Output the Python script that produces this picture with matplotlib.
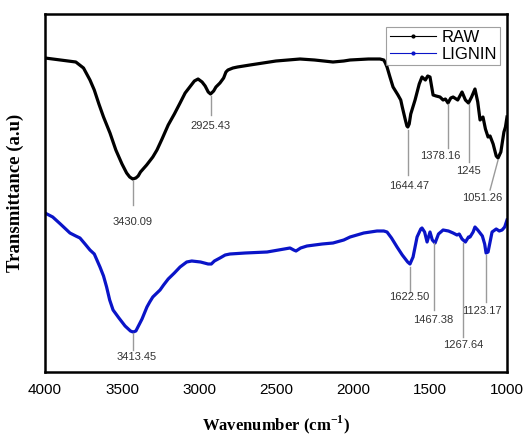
import matplotlib
matplotlib.use("Agg")
import matplotlib.pyplot as plt
from matplotlib.lines import Line2D

# RAW spectrum (wavenumber, transmittance a.u.)
raw_wn = [4000, 3900, 3800, 3750, 3708, 3680, 3650, 3620, 3578, 3540, 3500, 3470,
          3450, 3430, 3410, 3395, 3380, 3340, 3300, 3273, 3240, 3200, 3160,
          3123, 3090, 3050, 3030, 3006, 2980, 2960, 2940, 2925, 2905, 2890, 2864,
          2840, 2825, 2812, 2780, 2750, 2669, 2500, 2344,
          2250, 2130, 2060, 2019, 1900, 1825, 1800, 1790, 1779, 1760, 1740, 1720,
          1708, 1690, 1680, 1660, 1650, 1644, 1635, 1625, 1597, 1570, 1552, 1530,
          1515, 1500, 1480, 1460,
          1435, 1415, 1400, 1383, 1365, 1350, 1320, 1292, 1270, 1250, 1230, 1208,
          1190, 1175, 1156, 1140, 1123, 1110, 1090, 1070, 1058, 1040, 1020, 1010, 1000]
raw_t = [314, 312, 310, 304, 292, 282, 268, 255, 239, 222, 208, 199,
         195, 193, 194, 196, 200, 207, 215, 222, 233, 247, 258,
         269, 279, 287, 291, 293, 290, 286, 280, 278, 281, 285, 289,
         294, 300, 302, 304, 305, 307, 311, 313,
         312, 310, 311, 312, 313, 313, 312, 309, 305, 295, 285, 280,
         277, 272, 265, 252, 246, 245, 248, 258, 272, 288, 295, 292,
         296, 295, 277, 276,
         275, 272, 273, 269, 274, 275, 272, 280, 272, 269, 275, 283,
         270, 252, 255, 243, 235, 236, 228, 216, 214, 220, 240, 245, 255]

# LIGNIN spectrum
lig_wn = [4000, 3950, 3900, 3838, 3800, 3773, 3740, 3708, 3680, 3643, 3620, 3600,
          3580, 3558, 3520, 3480, 3445, 3428, 3410, 3390, 3370, 3338, 3320, 3300,
          3280, 3253, 3230, 3200, 3160, 3123, 3080, 3047, 2990,
          2941, 2920, 2900, 2864, 2830, 2799, 2700, 2558, 2409, 2385, 2370, 2340,
          2299, 2200, 2130, 2060, 2019, 1930, 1844, 1800, 1779, 1750, 1714, 1680,
          1645, 1630, 1610, 1584, 1560, 1552, 1535, 1519, 1500, 1485, 1467, 1445,
          1430, 1415, 1380, 1350, 1325, 1310, 1292, 1270, 1250, 1240, 1220, 1208,
          1190, 1175, 1160, 1145, 1136, 1123, 1110, 1097, 1070, 1050, 1032, 1015, 1000]
lig_t = [159, 155, 148, 139, 136, 134, 128, 122, 118, 105, 96, 85,
         72, 62, 54, 46, 41, 40, 41, 47, 53, 65, 70, 75,
         78, 82, 87, 93, 99, 105, 110, 111, 110,
         108, 108, 111, 114, 117, 118, 119, 120, 124, 122, 121, 124,
         126, 128, 129, 132, 135, 139, 141, 141, 140, 134, 125, 117,
         110, 108, 115, 135, 143, 144, 140, 130, 140, 132, 129, 138,
         140, 142, 141, 139, 137, 138, 133, 130, 135, 135, 140, 145,
         142, 139, 136, 128, 119, 120, 130, 140, 143, 141, 142, 145, 152]

# Peak annotations: label, line x, line y0, line y1, text x, text y
raw_labels = ["3430.09", "2925.43", "1644.47", "1378.16", "1245"]
raw_line_x = [3430, 2925, 1644, 1383, 1250]
raw_line_y0 = [191, 276, 242, 268, 268]
raw_line_y1 = [167, 257, 197, 224, 210]
raw_text_x = [3430, 2925, 1638, 1435, 1247]
raw_text_y = [150, 246, 186, 216, 201]

lig_labels = ["3413.45", "1622.50", "1467.38", "1267.64", "1123.17"]
lig_line_x = [3428, 1630, 1474, 1286, 1136]
lig_line_y0 = [39, 105, 129, 129, 117]
lig_line_y1 = [22, 80, 62, 35, 70]
lig_text_x = [3403, 1636, 1480, 1286, 1162]
lig_text_y = [15, 75, 52, 27, 61]

fig = plt.figure(figsize=(5.27, 4.37), dpi=100)
ax = fig.add_axes([45/527, 65/437, 462/527, 358/437])

ax.plot(raw_wn, raw_t, color="black", lw=2.3, solid_joinstyle="round")
ax.plot(lig_wn, lig_t, color="#0a14c8", lw=2.3, solid_joinstyle="round")

ann_color = "#9a9a9a"
txt_color = "#333333"
for lab, lx, y0, y1, tx, ty in zip(raw_labels + lig_labels,
                                   raw_line_x + lig_line_x,
                                   raw_line_y0 + lig_line_y0,
                                   raw_line_y1 + lig_line_y1,
                                   raw_text_x + lig_text_x,
                                   raw_text_y + lig_text_y):
    ax.plot([lx, lx], [y0, y1], color=ann_color, lw=1)
    ax.text(tx, ty, lab, ha="center", va="center", fontsize=8,
            color=txt_color, family="Liberation Sans")

# slanted annotation for 1051.26
ax.plot([1058, 1110], [212, 182], color=ann_color, lw=1)
ax.text(1162, 174, "1051.26", ha="center", va="center", fontsize=8,
        color=txt_color, family="Liberation Sans")

ax.set_xlim(4000, 1000)
ax.set_ylim(0, 358)
ax.set_xticks([4000, 3500, 3000, 2500, 2000, 1500, 1000])
ax.set_yticks([])
ax.tick_params(axis="x", length=0, pad=8, labelsize=11)
for lab in ax.get_xticklabels():
    lab.set_family("Liberation Sans")
for s in ax.spines.values():
    s.set_linewidth(1.8)

ax.set_xlabel("Wavenumber (cm$^{\\mathregular{-1}}$)", family="Liberation Serif",
              fontweight="bold", fontsize=12)
ax.xaxis.set_label_coords(0.5, -0.115)
ax.set_ylabel("Transmittance (a.u)", family="Liberation Serif",
              fontweight="bold", fontsize=13.5)
ax.yaxis.set_label_coords(-0.045, 0.5)

handles = [Line2D([], [], color="black", lw=0.8, marker="o", markersize=2),
           Line2D([], [], color="#0a14c8", lw=0.8, marker="o", markersize=2)]
leg = ax.legend(handles, ["RAW", "LIGNIN"], loc="upper right",
                bbox_to_anchor=(0.985, 0.965), fancybox=False, edgecolor="#888888",
                prop={"family": "Liberation Sans", "size": 12},
                handlelength=2.8, handletextpad=0.3, borderpad=0.2,
                labelspacing=0.1, borderaxespad=0)
leg.get_frame().set_linewidth(0.8)

fig.savefig("out.png", dpi=100)
